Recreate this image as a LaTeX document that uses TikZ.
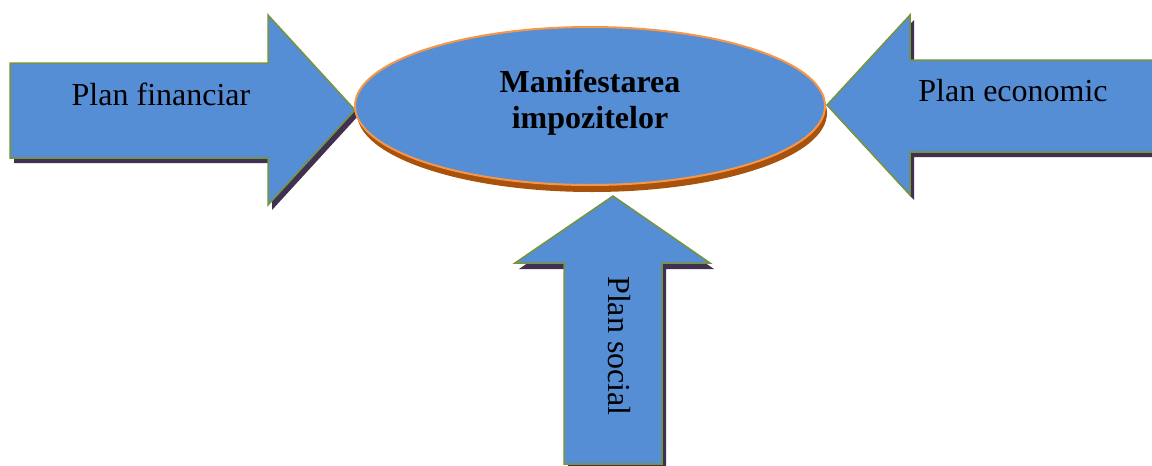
\documentclass[tikz,border=0pt]{standalone}
\usepackage{fontspec}
\setmainfont{Liberation Serif}
\usetikzlibrary{shapes.geometric}
\definecolor{blockblue}{HTML}{558ED5}
\definecolor{blockgreen}{HTML}{77933C}
\definecolor{shadowdark}{HTML}{403152}
\definecolor{ellorange}{HTML}{F79646}
\definecolor{ellbrown}{HTML}{A8520C}
\tikzset{
  blockarrow/.style={fill=blockblue, draw=blockgreen, line width=1.5pt, line join=miter},
  arrowshadow/.style={fill=shadowdark},
  lbl/.style={font=\fontsize{32}{36}\selectfont, inner sep=0pt}
}
\begin{document}
\begin{tikzpicture}[x=1pt,y=-1pt]
\useasboundingbox (0,0) rectangle (1152,466);
\clip (0,0) rectangle (1152,466);
% left arrow
\fill[arrowshadow] (14,68) -- (272,68) -- (272,20) -- (359,115) -- (272,210) -- (272,163) -- (14,163) -- cycle;
\draw[blockarrow] (10,63) -- (268,63) -- (268,15) -- (355,110) -- (268,205) -- (268,158) -- (10,158) -- cycle;
% right arrow
\fill[arrowshadow] (1170,65) -- (914,65) -- (914,20) -- (831,110) -- (914,200) -- (914,157) -- (1170,157) -- cycle;
\draw[blockarrow] (1170,60) -- (910,60) -- (910,15) -- (827,105) -- (910,195) -- (910,152) -- (1170,152) -- cycle;
% bottom arrow
\fill[arrowshadow] (568,480) -- (568,269) -- (519,269) -- (617,202) -- (714,269) -- (666,269) -- (666,480) -- cycle;
\draw[blockarrow] (564,464) -- (564,263) -- (515,263) -- (613,196) -- (710,263) -- (662,263) -- (662,464) -- cycle;
% ellipse
\fill[ellbrown] (592,113) ellipse [x radius=235, y radius=79];
\node[ellipse, fill=blockblue, draw=ellorange, line width=2pt, minimum width=470pt, minimum height=158pt, inner sep=0pt] (ell) at (590,106) {};
\node[lbl, font=\fontsize{32}{36}\selectfont\bfseries, align=center] (title) at ([yshift=3.5pt]ell.center) {Manifestarea\\impozitelor};
% labels
\node[lbl, anchor=base] (fin) at (161,105) {Plan financiar};
\node[lbl, anchor=base] (eco) at (1013,101) {Plan economic};
\node[lbl, anchor=base, rotate=-90] (soc) at (608,346) {Plan social};
\end{tikzpicture}
\end{document}
